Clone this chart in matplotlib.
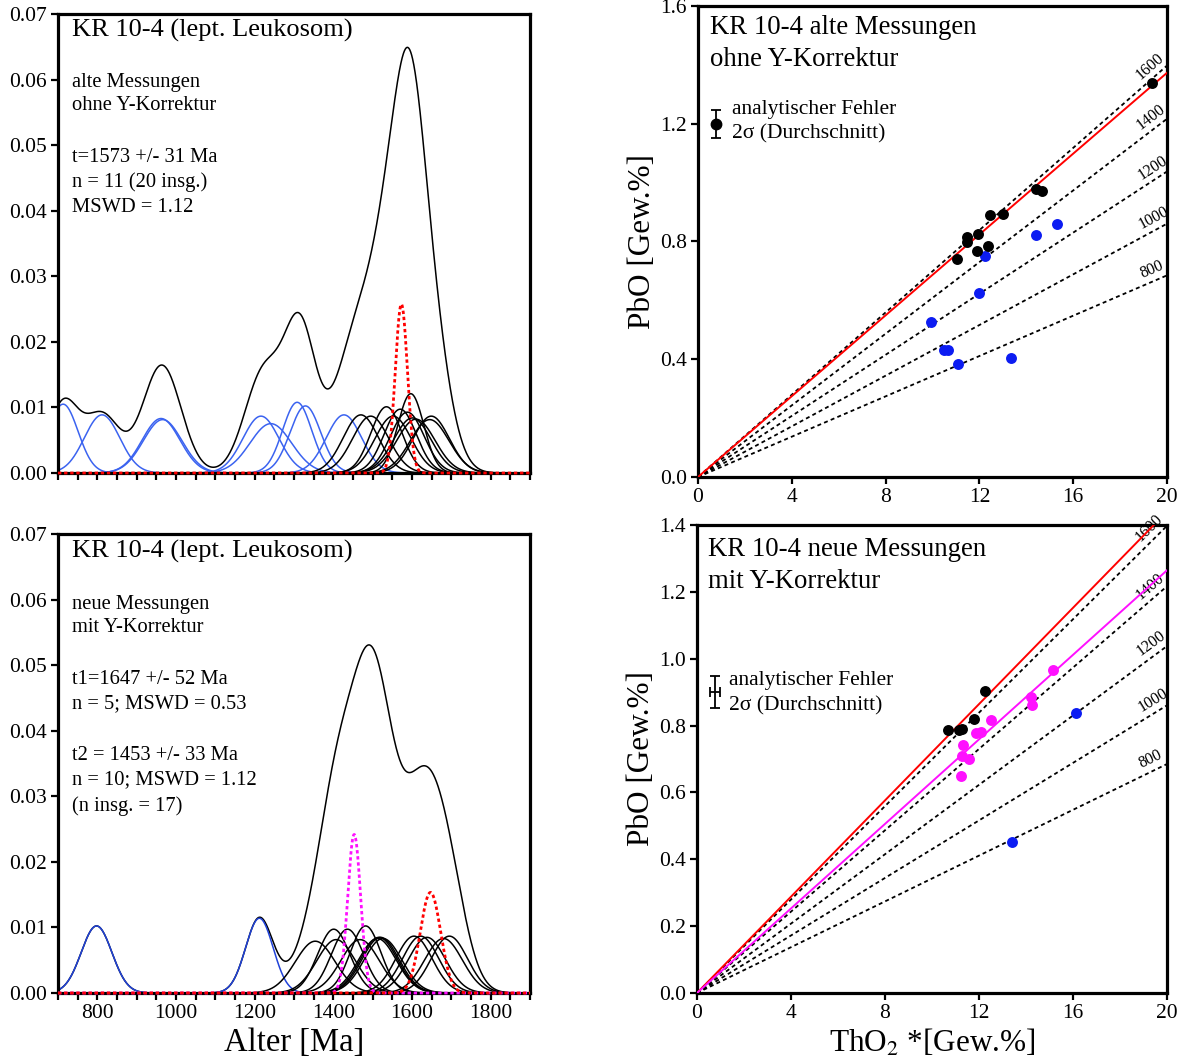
import numpy as np
import matplotlib
matplotlib.use("Agg")
import matplotlib.pyplot as plt
from matplotlib.ticker import MultipleLocator, FormatStrFormatter

plt.rcParams['font.family'] = ['Liberation Serif', 'DejaVu Serif']
plt.rcParams['mathtext.fontset'] = 'stix'

W, H = 1179, 1064

# --- single-grain ages (Ma) and 1-sigma errors, old measurements ---
old_excl_age = [713, 812, 962, 966, 1216, 1241, 1308, 1329, 1427]
old_excl_sig = [38, 45, 48, 49, 46, 53, 37, 39, 45]
old_used_age = [1470, 1495, 1535, 1552, 1570, 1588, 1597, 1601, 1610, 1645, 1649]
old_used_sig = [45, 46, 39.5, 46, 41, 43, 33, 47.5, 48.6, 49, 46]
old_mean, old_mean_err = 1573, 31

# --- new measurements ---
new_excl_age = [798, 1212]
new_excl_sig = [39, 35]
new_t2_age = [1354, 1401, 1407, 1436, 1468, 1482, 1512, 1516, 1520, 1526]
new_t2_sig = [50.5, 41, 49, 41, 49, 39, 48, 47, 47, 48]
new_t1_age = [1605, 1622, 1638, 1680, 1695]
new_t1_sig = [46, 46, 47, 48, 46]
t1_mean, t1_err = 1647, 52
t2_mean, t2_err = 1453, 33

# --- ThO2* / PbO (wt%) ---
old_used_tho2 = [19.35, 14.40, 14.66, 12.46, 13.00, 11.45, 11.45, 11.94, 11.89, 12.38, 11.03]
old_used_pbo = [1.339, 0.978, 0.972, 0.890, 0.894, 0.815, 0.799, 0.825, 0.768, 0.785, 0.742]
old_excl_tho2 = [12.24, 14.40, 15.30, 12.00, 9.93, 10.48, 10.64, 11.10, 13.33]
old_excl_pbo = [0.752, 0.821, 0.859, 0.625, 0.528, 0.431, 0.431, 0.384, 0.403]

new_t1_tho2 = [12.26, 11.80, 11.26, 11.13, 10.69]
new_t1_pbo = [0.904, 0.821, 0.791, 0.787, 0.786]
new_t2_tho2 = [15.13, 14.23, 14.24, 12.51, 11.87, 12.10, 11.31, 11.26, 11.56, 11.22]
new_t2_pbo = [0.966, 0.884, 0.861, 0.817, 0.779, 0.782, 0.741, 0.710, 0.699, 0.649]
new_excl_tho2 = [16.13, 13.42]
new_excl_pbo = [0.838, 0.452]

isochron_ages = [800, 1000, 1200, 1400, 1600]

LAMBDA_TH = 4.9475e-5          # 232Th decay constant, 1/Ma
MASS_RATIO = 223.98 / 264.04   # PbO / ThO2


def isochron_slope(age):
    return MASS_RATIO * (np.exp(LAMBDA_TH * age) - 1.0)


def gauss(t, mu, sig):
    return np.exp(-0.5 * ((t - mu) / sig) ** 2) / (sig * np.sqrt(2 * np.pi))


BLUE_TOP = '#3b63f0'
BLUE_BOT = '#2042d8'
BLUE_PT = '#0c1cf2'
MAGENTA = '#ff10ff'

fig = plt.figure(figsize=(W / 100, H / 100), dpi=100)


def ftext(x, y, s, **kw):
    kw.setdefault('va', 'center')
    fig.text(x / W, 1 - y / H, s, **kw)


def style_axes(ax):
    for sp in ax.spines.values():
        sp.set_linewidth(2.3)
    ax.tick_params(which='both', direction='out', width=1.6, length=5,
                   labelsize=15.5, pad=3)


def age_panel(ax, groups, means, envelope_ages, envelope_sig, show_xlabels):
    t = np.linspace(700, 1900, 1500)
    total = np.zeros_like(t)
    for a, s in zip(envelope_ages, envelope_sig):
        total += gauss(t, a, s)
    ax.plot(t, total, color='black', lw=1.1)
    for ages, sigs, col in groups:
        for a, s in zip(ages, sigs):
            ax.plot(t, gauss(t, a, s), color=col, lw=1.1)
    for mu, err, col in means:
        ax.plot(t, gauss(t, mu, err / 2.0), color=col, lw=2.0,
                linestyle=(0, (1.2, 1.0)), clip_on=False, zorder=5)
    ax.set_xlim(700, 1900)
    ax.set_ylim(0, 0.07)
    ax.xaxis.set_major_locator(MultipleLocator(200))
    ax.xaxis.set_minor_locator(MultipleLocator(50))
    ax.yaxis.set_major_locator(MultipleLocator(0.01))
    ax.yaxis.set_major_formatter(FormatStrFormatter('%.2f'))
    style_axes(ax)
    if not show_xlabels:
        ax.set_xticklabels([])


# ---------------- left: probability density of ages ----------------
ax_tl = fig.add_axes([58 / W, 1 - 473 / H, 472 / W, 459 / H])
age_panel(ax_tl,
          [(old_excl_age, old_excl_sig, BLUE_TOP),
           (old_used_age, old_used_sig, 'black')],
          [(old_mean, old_mean_err, 'red')],
          old_excl_age + old_used_age, old_excl_sig + old_used_sig, False)

ax_bl = fig.add_axes([58 / W, 1 - 993 / H, 472 / W, 459 / H])
age_panel(ax_bl,
          [(new_excl_age, new_excl_sig, BLUE_BOT),
           (new_t2_age, new_t2_sig, 'black'),
           (new_t1_age, new_t1_sig, 'black')],
          [(t2_mean, t2_err, MAGENTA), (t1_mean, t1_err, 'red')],
          new_excl_age + new_t2_age + new_t1_age,
          new_excl_sig + new_t2_sig + new_t1_sig, True)
ax_bl.set_xlabel('Alter [Ma]', fontsize=23.5, labelpad=3)

SMALL = 14.8
ftext(72, 30, 'KR 10-4 (lept. Leukosom)', fontsize=19)
ftext(72, 82, 'alte Messungen', fontsize=SMALL)
ftext(72, 106, 'ohne Y-Korrektur', fontsize=SMALL)
ftext(72, 158, 't=1573 +/- 31 Ma', fontsize=SMALL)
ftext(72, 182, 'n = 11 (20 insg.)', fontsize=SMALL)
ftext(72, 207, 'MSWD = 1.12', fontsize=SMALL)

ftext(72, 551, 'KR 10-4 (lept. Leukosom)', fontsize=19)
ftext(72, 604, 'neue Messungen', fontsize=SMALL)
ftext(72, 628, 'mit Y-Korrektur', fontsize=SMALL)
ftext(72, 679, 't1=1647 +/- 52 Ma', fontsize=SMALL)
ftext(72, 704, 'n = 5; MSWD = 0.53', fontsize=SMALL)
ftext(72, 755, 't2 = 1453 +/- 33 Ma', fontsize=SMALL)
ftext(72, 780, 'n = 10; MSWD = 1.12', fontsize=SMALL)
ftext(72, 806, '(n insg. = 17)', fontsize=SMALL)


# ---------------- right: ThO2* vs PbO isochron diagrams ----------------
def isochron_panel(ax, ymax, ystep):
    x = np.array([0.0, 20.0])
    for age in isochron_ages:
        k = isochron_slope(age)
        ax.plot(x, k * x, color='black', lw=1.3, linestyle=(0, (2.2, 1.8)),
                zorder=2)
        xl = 19.0
        ax.text(xl, k * xl + 0.012, str(age), fontsize=11.5,
                rotation=np.degrees(np.arctan(k)), rotation_mode='anchor',
                transform_rotates_text=True, ha='left', va='bottom',
                clip_on=False)
    ax.set_xlim(0, 20)
    ax.set_ylim(0, ymax)
    ax.xaxis.set_major_locator(MultipleLocator(4))
    ax.yaxis.set_major_locator(MultipleLocator(ystep))
    ax.yaxis.set_major_formatter(FormatStrFormatter('%.1f'))
    style_axes(ax)


ax_tr = fig.add_axes([698 / W, 1 - 477 / H, 469 / W, 471 / H])
isochron_panel(ax_tr, 1.6, 0.4)
xs = np.array([0.0, 20.0])
ax_tr.plot(xs, isochron_slope(old_mean) * xs, color='red', lw=1.4, zorder=3)
ax_tr.scatter(old_excl_tho2, old_excl_pbo, s=62, color=BLUE_PT, zorder=4,
              linewidths=0)
ax_tr.scatter(old_used_tho2, old_used_pbo, s=62, color='black', zorder=4,
              linewidths=0)
ax_tr.errorbar([0.77], [1.20], yerr=[0.047], fmt='o', color='black',
               markersize=7.5, capsize=3.5, elinewidth=1.3, capthick=1.3)
ax_tr.set_ylabel('PbO [Gew.%]', fontsize=22.5, labelpad=2)

TITLE_R = 19.3
NOTE = 15.5
ftext(710, 28, 'KR 10-4 alte Messungen', fontsize=TITLE_R)
ftext(710, 59, 'ohne Y-Korrektur', fontsize=TITLE_R)
ftext(732, 109, 'analytischer Fehler', fontsize=NOTE)
ftext(732, 134, '2σ (Durchschnitt)', fontsize=NOTE)

ax_br = fig.add_axes([697 / W, 1 - 993 / H, 470 / W, 468 / H])
isochron_panel(ax_br, 1.4, 0.2)
ax_br.plot(xs, isochron_slope(t1_mean) * xs, color='red', lw=1.4, zorder=3)
ax_br.plot(xs, isochron_slope(t2_mean) * xs, color=MAGENTA, lw=1.4, zorder=3)
ax_br.scatter(new_excl_tho2, new_excl_pbo, s=62, color=BLUE_PT, zorder=4,
              linewidths=0)
ax_br.scatter(new_t1_tho2, new_t1_pbo, s=62, color='black', zorder=4,
              linewidths=0)
ax_br.scatter(new_t2_tho2, new_t2_pbo, s=62, color=MAGENTA, zorder=4,
              linewidths=0)
ax_br.errorbar([0.77], [0.90], xerr=[0.21], yerr=[0.047], fmt='none',
               ecolor='black', capsize=3.5, elinewidth=1.3, capthick=1.3)
ax_br.set_ylabel('PbO [Gew.%]', fontsize=22.5, labelpad=2)
ax_br.set_xlabel('ThO$_2$ *[Gew.%]', fontsize=22.5, labelpad=3)

ftext(708, 549, 'KR 10-4 neue Messungen', fontsize=TITLE_R)
ftext(708, 581, 'mit Y-Korrektur', fontsize=TITLE_R)
ftext(729, 680, 'analytischer Fehler', fontsize=NOTE)
ftext(729, 706, '2σ (Durchschnitt)', fontsize=NOTE)

fig.savefig('out.png', dpi=100)
